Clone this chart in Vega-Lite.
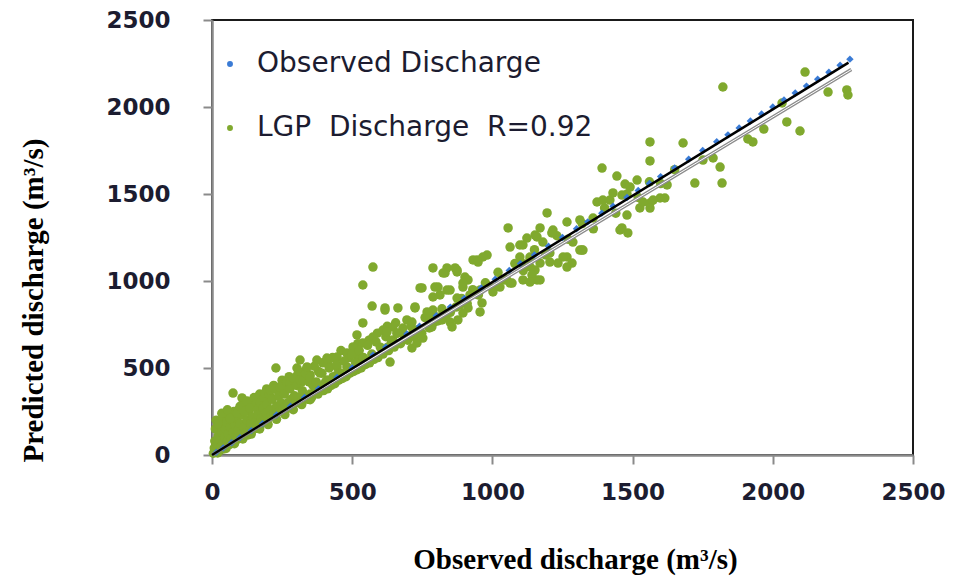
{
  "$schema": "https://vega.github.io/schema/vega-lite/v6.json",
  "width": 701,
  "height": 435,
  "autosize": {"type": "none"},
  "padding": {"left": 212, "top": 20, "right": 54, "bottom": 121},
  "background": "white",
  "config": {
    "view": {"stroke": "#1a1a1a", "strokeWidth": 2},
    "axis": {
      "grid": false,
      "domainColor": "#8a8a8a",
      "domainWidth": 2.5,
      "tickColor": "#8a8a8a",
      "tickWidth": 2,
      "tickSize": 9,
      "labelFont": "DejaVu Sans",
      "labelFontWeight": "bold",
      "labelFontSize": 23,
      "labelColor": "#1c1c30",
      "labelFlush": false,
      "labelOverlap": false,
      "titleFont": "Liberation Serif",
      "titleFontWeight": "bold",
      "titleFontSize": 29,
      "titleColor": "#000000"
    }
  },
  "datasets": {
    "lgp": [
      {"obs":5,"pred":10},{"obs":8,"pred":40},{"obs":10,"pred":80},{"obs":12,"pred":150},{"obs":15,"pred":200},{"obs":18,"pred":30},{"obs":20,"pred":60},{"obs":22,"pred":110},{"obs":25,"pred":20},{"obs":28,"pred":90},{"obs":30,"pred":170},{"obs":32,"pred":45},{"obs":35,"pred":130},{"obs":38,"pred":70},{"obs":40,"pred":210},{"obs":42,"pred":35},{"obs":45,"pred":100},{"obs":48,"pred":150},{"obs":50,"pred":55},{"obs":52,"pred":190},{"obs":55,"pred":80},{"obs":58,"pred":120},{"obs":60,"pred":230},{"obs":62,"pred":60},{"obs":65,"pred":160},{"obs":68,"pred":95},{"obs":70,"pred":200},{"obs":72,"pred":70},{"obs":75,"pred":130},{"obs":75,"pred":356},{"obs":78,"pred":250},{"obs":80,"pred":85},{"obs":82,"pred":170},{"obs":85,"pred":110},{"obs":88,"pred":210},{"obs":90,"pred":90},{"obs":92,"pred":140},{"obs":95,"pred":260},{"obs":98,"pred":100},{"obs":100,"pred":180},{"obs":105,"pred":120},{"obs":107,"pred":328},{"obs":108,"pred":230},{"obs":110,"pred":105},{"obs":115,"pred":160},{"obs":118,"pred":290},{"obs":120,"pred":130},{"obs":125,"pred":200},{"obs":128,"pred":115},{"obs":130,"pred":250},{"obs":135,"pred":150},{"obs":138,"pred":180},{"obs":140,"pred":135},{"obs":145,"pred":220},{"obs":148,"pred":300},{"obs":150,"pred":150},
      {"obs":20,"pred":180},{"obs":35,"pred":240},{"obs":55,"pred":260},{"obs":65,"pred":210},{"obs":90,"pred":240},{"obs":100,"pred":280},{"obs":115,"pred":250},{"obs":125,"pred":310},{"obs":135,"pred":270},{"obs":150,"pred":330},{"obs":160,"pred":300},{"obs":170,"pred":350},{"obs":180,"pred":320},{"obs":195,"pred":380},{"obs":210,"pred":330},{"obs":220,"pred":400},{"obs":235,"pred":370},{"obs":250,"pred":430},{"obs":262,"pred":390},{"obs":275,"pred":450},{"obs":290,"pred":410},{"obs":305,"pred":460},{"obs":320,"pred":420},{"obs":335,"pred":490},{"obs":350,"pred":460},{"obs":365,"pred":510},{"obs":380,"pred":480},{"obs":395,"pred":530},{"obs":415,"pred":520},{"obs":430,"pred":560},{"obs":460,"pred":600},{"obs":490,"pred":560},{"obs":520,"pred":640},{"obs":560,"pred":660},{"obs":590,"pred":700},{"obs":625,"pred":740},{"obs":655,"pred":760},
      {"obs":155,"pred":190},{"obs":160,"pred":170},{"obs":162,"pred":260},{"obs":165,"pred":230},{"obs":170,"pred":175},{"obs":172,"pred":300},{"obs":175,"pred":210},{"obs":180,"pred":190},{"obs":183,"pred":270},{"obs":186,"pred":330},{"obs":189,"pred":356},{"obs":190,"pred":200},{"obs":193,"pred":240},{"obs":196,"pred":290},{"obs":200,"pred":210},{"obs":204,"pred":350},{"obs":207,"pred":374},{"obs":208,"pred":260},{"obs":212,"pred":230},{"obs":215,"pred":320},{"obs":220,"pred":225},{"obs":224,"pred":380},{"obs":228,"pred":500},{"obs":230,"pred":280},{"obs":234,"pred":245},{"obs":238,"pred":340},{"obs":242,"pred":391},{"obs":242,"pred":250},{"obs":246,"pred":300},{"obs":250,"pred":400},{"obs":254,"pred":265},{"obs":258,"pred":350},{"obs":262,"pred":280},{"obs":266,"pred":420},{"obs":270,"pred":300},{"obs":274,"pred":270},{"obs":278,"pred":414},{"obs":278,"pred":380},{"obs":282,"pred":320},{"obs":286,"pred":290},{"obs":290,"pred":440},{"obs":294,"pred":340},{"obs":298,"pred":300},{"obs":302,"pred":400},{"obs":303,"pred":500},{"obs":306,"pred":330},{"obs":310,"pred":480},{"obs":314,"pred":546},{"obs":314,"pred":431},{"obs":318,"pred":310},{"obs":322,"pred":370},{"obs":326,"pred":430},{"obs":330,"pred":330},{"obs":334,"pred":470},{"obs":339,"pred":506},{"obs":342,"pred":320},{"obs":346,"pred":420},{"obs":349,"pred":448},{"obs":350,"pred":350},{"obs":374,"pred":546},{"obs":385,"pred":471},{"obs":410,"pred":431},{"obs":410,"pred":557},{"obs":446,"pred":460},{"obs":446,"pred":563},{"obs":446,"pred":506},{"obs":481,"pred":586},{"obs":481,"pred":506},{"obs":503,"pred":621},{"obs":517,"pred":575},{"obs":528,"pred":529},{"obs":538,"pred":644},{"obs":553,"pred":534},{"obs":538,"pred":759},{"obs":517,"pred":690},{"obs":574,"pred":678},{"obs":610,"pred":718},{"obs":645,"pred":661},{"obs":695,"pred":776},{"obs":717,"pred":707},{"obs":571,"pred":856},{"obs":617,"pred":833},{"obs":663,"pred":845},{"obs":724,"pred":845},{"obs":788,"pred":833},{"obs":802,"pred":793},{"obs":749,"pred":960},{"obs":795,"pred":965},{"obs":838,"pred":948},{"obs":813,"pred":920},{"obs":788,"pred":1075},{"obs":831,"pred":1046},{"obs":874,"pred":1052},{"obs":574,"pred":1080},{"obs":538,"pred":977},
      {"obs":20,"pred":12},{"obs":50,"pred":38},{"obs":80,"pred":65},{"obs":110,"pred":92},{"obs":140,"pred":120},{"obs":170,"pred":150},{"obs":200,"pred":175},{"obs":230,"pred":205},{"obs":260,"pred":232},{"obs":290,"pred":260},{"obs":320,"pred":290},{"obs":350,"pred":318},
      {"obs":355,"pred":330},{"obs":360,"pred":400},{"obs":365,"pred":360},{"obs":372,"pred":420},{"obs":378,"pred":350},{"obs":385,"pred":390},{"obs":392,"pred":470},{"obs":398,"pred":370},{"obs":405,"pred":420},{"obs":412,"pred":380},{"obs":418,"pred":500},{"obs":425,"pred":400},{"obs":432,"pred":450},{"obs":438,"pred":410},{"obs":445,"pred":520},{"obs":452,"pred":430},{"obs":458,"pred":470},{"obs":465,"pred":440},{"obs":472,"pred":540},{"obs":478,"pred":450},{"obs":485,"pred":500},{"obs":492,"pred":470},{"obs":498,"pred":580},{"obs":505,"pred":480},{"obs":512,"pred":530},{"obs":518,"pred":490},{"obs":525,"pred":600},{"obs":532,"pred":500},{"obs":540,"pred":560},{"obs":548,"pred":520},{"obs":555,"pred":630},{"obs":562,"pred":530},{"obs":570,"pred":580},{"obs":578,"pred":550},{"obs":585,"pred":650},{"obs":592,"pred":560},{"obs":600,"pred":620},{"obs":610,"pred":580},{"obs":620,"pred":680},{"obs":630,"pred":600},{"obs":640,"pred":650},{"obs":650,"pred":620},{"obs":660,"pred":700},{"obs":672,"pred":640},{"obs":685,"pred":690},{"obs":698,"pred":660},{"obs":710,"pred":740},{"obs":722,"pred":680},{"obs":735,"pred":720},{"obs":748,"pred":700},{"obs":760,"pred":790},{"obs":775,"pred":730},{"obs":790,"pred":760},{"obs":805,"pred":770},{"obs":820,"pred":840},{"obs":835,"pred":800},{"obs":850,"pred":820},{"obs":870,"pred":850},{"obs":890,"pred":900},{"obs":910,"pred":870},{"obs":930,"pred":950},{"obs":950,"pred":920},{"obs":975,"pred":990},{"obs":1000,"pred":960},{"obs":1020,"pred":1050},{"obs":1050,"pred":1010},{"obs":1080,"pred":1100},{"obs":1110,"pred":1060},{"obs":1150,"pred":1180},{"obs":1190,"pred":1150},{"obs":1230,"pred":1260},{"obs":1270,"pred":1240},{"obs":1320,"pred":1330},{"obs":1360,"pred":1300},{"obs":1400,"pred":1420},{"obs":1440,"pred":1390},{"obs":1480,"pred":1500},{"obs":1520,"pred":1480},{"obs":1560,"pred":1570},{"obs":1600,"pred":1560},{"obs":1650,"pred":1640},
      {"obs":1195,"pred":1391},{"obs":1056,"pred":1305},{"obs":1170,"pred":1305},{"obs":1216,"pred":1293},{"obs":1266,"pred":1339},{"obs":1312,"pred":1351},{"obs":1359,"pred":1362},{"obs":1373,"pred":1454},{"obs":1419,"pred":1465},{"obs":1480,"pred":1379},{"obs":1455,"pred":1293},{"obs":1483,"pred":1276},{"obs":1526,"pred":1420},{"obs":1562,"pred":1448},{"obs":1598,"pred":1477},{"obs":1623,"pred":1552},{"obs":1123,"pred":1247},{"obs":1152,"pred":1264},{"obs":1180,"pred":1224},{"obs":1063,"pred":1195},{"obs":1098,"pred":1207},{"obs":945,"pred":1121},{"obs":981,"pred":1149},{"obs":838,"pred":1075},{"obs":874,"pred":1063},{"obs":902,"pred":1023},{"obs":1098,"pred":1138},{"obs":1134,"pred":1121},{"obs":1170,"pred":1103},{"obs":1152,"pred":1063},{"obs":1159,"pred":1006},{"obs":1045,"pred":1006},{"obs":1063,"pred":988},{"obs":1109,"pred":1006},{"obs":1205,"pred":1109},{"obs":1266,"pred":1138},{"obs":1312,"pred":1178},{"obs":1284,"pred":1103},{"obs":742,"pred":960},{"obs":806,"pred":965},{"obs":849,"pred":948},{"obs":788,"pred":908},{"obs":895,"pred":965},{"obs":913,"pred":1006},{"obs":874,"pred":902},{"obs":920,"pred":920},{"obs":956,"pred":948},{"obs":884,"pred":862},{"obs":913,"pred":845},{"obs":956,"pred":822},{"obs":963,"pred":874},{"obs":724,"pred":851},{"obs":617,"pred":845},{"obs":820,"pred":776},{"obs":849,"pred":764},{"obs":856,"pred":736},{"obs":767,"pred":822},{"obs":777,"pred":793},{"obs":713,"pred":764},{"obs":681,"pred":730},{"obs":645,"pred":736},{"obs":624,"pred":707},{"obs":660,"pred":701},{"obs":717,"pred":690},{"obs":752,"pred":672},{"obs":784,"pred":736},{"obs":895,"pred":816},{"obs":877,"pred":776},{"obs":1027,"pred":965},{"obs":1002,"pred":937},{"obs":628,"pred":621},{"obs":610,"pred":586},{"obs":635,"pred":534},{"obs":713,"pred":615},{"obs":731,"pred":644},{"obs":1287,"pred":1224},
      {"obs":1159,"pred":1253},{"obs":1109,"pred":1207},{"obs":966,"pred":1138},{"obs":931,"pred":1121},{"obs":949,"pred":1109},{"obs":867,"pred":1075},{"obs":824,"pred":1046},{"obs":1134,"pred":1138},{"obs":1105,"pred":1103},{"obs":1134,"pred":1081},{"obs":1205,"pred":1161},{"obs":1252,"pred":1138},{"obs":1234,"pred":1103},{"obs":1266,"pred":1080},{"obs":1141,"pred":1034},{"obs":1170,"pred":1006},{"obs":1134,"pred":994},{"obs":1070,"pred":988},{"obs":895,"pred":988},{"obs":1212,"pred":1276},{"obs":1319,"pred":1178},{"obs":1462,"pred":1305},{"obs":1537,"pred":1454},{"obs":1573,"pred":1465},{"obs":1615,"pred":1477},{"obs":1562,"pred":1419},{"obs":1391,"pred":1649},{"obs":1444,"pred":1603},{"obs":1473,"pred":1557},{"obs":1516,"pred":1580},{"obs":1491,"pred":1540},{"obs":1430,"pred":1506},{"obs":1462,"pred":1494},{"obs":1394,"pred":1465},{"obs":1562,"pred":1799},{"obs":1680,"pred":1793},{"obs":1562,"pred":1690},{"obs":1787,"pred":1707},{"obs":1812,"pred":1655},{"obs":1751,"pred":1695},{"obs":1722,"pred":1563},{"obs":1819,"pred":1563},{"obs":1822,"pred":2115},{"obs":1323,"pred":1178},
      {"obs":2115,"pred":2201},{"obs":2197,"pred":2086},{"obs":2264,"pred":2098},{"obs":2268,"pred":2069},{"obs":2050,"pred":1914},{"obs":2097,"pred":1862},{"obs":1968,"pred":1873},{"obs":1911,"pred":1816},{"obs":1929,"pred":1799},{"obs":2033,"pred":2023}
    ],
    "observed": [
      {"obs":15,"pred":15},{"obs":40,"pred":40},{"obs":70,"pred":70},{"obs":100,"pred":100},{"obs":140,"pred":140},{"obs":180,"pred":180},{"obs":230,"pred":230},{"obs":280,"pred":280},{"obs":330,"pred":330},{"obs":380,"pred":380},{"obs":446,"pred":446},{"obs":500,"pred":500},{"obs":574,"pred":574},{"obs":620,"pred":620},{"obs":695,"pred":695},{"obs":740,"pred":740},{"obs":800,"pred":800},{"obs":850,"pred":850},{"obs":900,"pred":900},{"obs":960,"pred":960},{"obs":1010,"pred":1010},{"obs":1060,"pred":1060},{"obs":1100,"pred":1100},{"obs":1150,"pred":1150},{"obs":1200,"pred":1200},{"obs":1250,"pred":1250},{"obs":1300,"pred":1300},{"obs":1340,"pred":1340},{"obs":1390,"pred":1390},{"obs":1430,"pred":1430},{"obs":1480,"pred":1480},{"obs":1520,"pred":1520},{"obs":1560,"pred":1560},{"obs":1600,"pred":1600},{"obs":1650,"pred":1650},{"obs":1700,"pred":1700},{"obs":1750,"pred":1750},{"obs":1800,"pred":1800},{"obs":1840,"pred":1840},{"obs":1880,"pred":1880},{"obs":1920,"pred":1920},{"obs":1960,"pred":1960},{"obs":2000,"pred":2000},{"obs":2040,"pred":2040},{"obs":2080,"pred":2080},{"obs":2120,"pred":2120},{"obs":2160,"pred":2160},{"obs":2200,"pred":2200},{"obs":2240,"pred":2240},{"obs":2275,"pred":2275}
    ],
    "fit": [
      {"line":"observed","obs":0,"pred":0},{"line":"observed","obs":2270,"pred":2255},
      {"line":"lgp","obs":0,"pred":0},{"line":"lgp","obs":2280,"pred":2215}
    ]
  },
  "encoding": {
    "x": {
      "field": "obs", "type": "quantitative",
      "scale": {"domain": [0, 2500], "nice": false, "zero": true},
      "axis": {
        "values": [0, 500, 1000, 1500, 2000, 2500],
        "format": "d",
        "labelPadding": 17,
        "title": "Observed discharge (m³/s)",
        "titleX": 363, "titleY": 113,
        "titleAlign": "center", "titleBaseline": "alphabetic"
      }
    },
    "y": {
      "field": "pred", "type": "quantitative",
      "scale": {"domain": [0, 2500], "nice": false, "zero": true},
      "axis": {
        "values": [0, 500, 1000, 1500, 2000, 2500],
        "format": "d",
        "labelPadding": 33,
        "title": "Predicted discharge (m³/s)",
        "titleAngle": 270,
        "titleX": -170, "titleY": 280,
        "titleAlign": "center", "titleBaseline": "alphabetic"
      }
    }
  },
  "layer": [
    {
      "data": {"name": "lgp"},
      "mark": {"type": "point", "shape": "circle", "filled": true, "opacity": 1, "size": 90},
      "encoding": {
        "color": {
          "datum": "LGP Discharge",
          "type": "nominal",
          "scale": {"domain": ["Observed Discharge", "LGP Discharge"], "range": ["#3a7bd5", "#80a92e"]},
          "legend": {
            "orient": "none", "legendX": 4, "legendY": 30,
            "title": null, "padding": 0,
            "symbolType": "circle", "symbolSize": 35, "symbolStrokeWidth": 0,
            "labelFont": "DejaVu Sans", "labelFontSize": 28, "labelColor": "#1c1c30",
            "labelLimit": 0,
            "labelOffset": 13, "rowPadding": 36,
            "labelExpr": "datum.label == 'LGP Discharge' ? 'LGP\u00a0 Discharge\u00a0 R=0.92' : datum.label"
          }
        }
      }
    },
    {
      "data": {"name": "observed"},
      "mark": {"type": "point", "shape": "diamond", "filled": true, "opacity": 1, "size": 55},
      "encoding": {"color": {"datum": "Observed Discharge", "type": "nominal"}}
    },
    {
      "data": {"name": "fit"},
      "transform": [{"filter": "datum.line == 'lgp'"}],
      "mark": {"type": "line", "color": "#8c8c8c", "strokeWidth": 3.5},
      "encoding": {}
    },
    {
      "data": {"name": "fit"},
      "transform": [{"filter": "datum.line == 'lgp'"}],
      "mark": {"type": "line", "color": "#ffffff", "strokeWidth": 1},
      "encoding": {}
    },
    {
      "data": {"name": "fit"},
      "transform": [{"filter": "datum.line == 'observed'"}],
      "mark": {"type": "line", "color": "#000000", "strokeWidth": 2.5},
      "encoding": {}
    }
  ]
}
